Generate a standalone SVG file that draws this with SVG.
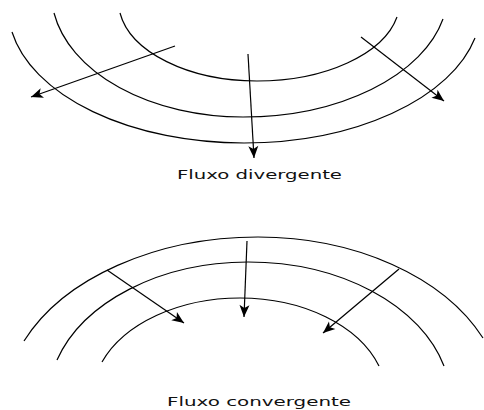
<svg xmlns="http://www.w3.org/2000/svg" width="484" height="410" viewBox="0 0 484 410">
  <defs>
    <style>
      .arc { fill: none; stroke: #000; stroke-width: 1.2; }
      .arrow { fill: none; stroke: #000; stroke-width: 1.2; marker-end: url(#head); }
      .label { font-family: "DejaVu Sans", Verdana, sans-serif; font-size: 12px; fill: #111; }
    </style>
    <marker id="head" markerUnits="userSpaceOnUse" markerWidth="14" markerHeight="12" viewBox="0 0 14 12" refX="13" refY="6" orient="auto">
      <path d="M1,1 L13,6 L1,11 L4,6 Z" fill="#000"/>
    </marker>
  </defs>
  <rect width="484" height="410" fill="#fff"/>

  <g id="divergente">
    <g id="div-arcs">
      <path id="div-inner" class="arc" d="M120,13 A138.6,80 0 0 0 257,81 A142.9,80 0 0 0 397,17"/>
      <path id="div-middle" class="arc" d="M54,13 A191.7,125 0 0 0 243,117 A204.8,125 0 0 0 443,19"/>
      <path id="div-outer" class="arc" d="M12,32 A235.8,135 0 0 0 244,143 A236.9,135 0 0 0 475,38"/>
    </g>
    <g id="div-arrows">
      <path class="arrow" d="M175,46 L31,97"/>
      <path class="arrow" d="M248,54 L254,158"/>
      <path class="arrow" d="M361,37 L444,101"/>
    </g>
    <text id="div-label" class="label" x="177" y="179" textLength="165" lengthAdjust="spacingAndGlyphs">Fluxo divergente</text>
  </g>

  <g id="convergente">
    <g id="conv-arcs">
      <path id="conv-outer" class="arc" d="M24,341 A254,170 0 0 1 258,237 A246.2,170 0 0 1 483,338"/>
      <path id="conv-middle" class="arc" d="M57,360 A200.2,140 0 0 1 248,262 A202.8,140 0 0 1 444,366"/>
      <path id="conv-inner" class="arc" d="M102,362 A147.9,100 0 0 1 240,298 A146.7,100 0 0 1 379,366"/>
    </g>
    <g id="conv-arrows">
      <path class="arrow" d="M107,270 L184,323"/>
      <path class="arrow" d="M247,241 L244,317"/>
      <path class="arrow" d="M399,269 L323,333"/>
    </g>
    <text id="conv-label" class="label" x="167" y="406" textLength="184" lengthAdjust="spacingAndGlyphs">Fluxo convergente</text>
  </g>
</svg>
